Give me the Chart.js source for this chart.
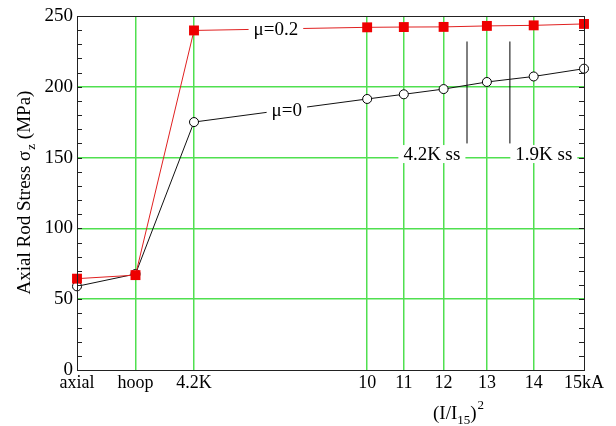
<!DOCTYPE html>
<html>
<head>
<meta charset="utf-8">
<script src="https://cdn.jsdelivr.net/npm/chart.js@4.4.1/dist/chart.umd.min.js"></script>
<style>
  html, body { margin: 0; padding: 0; background: #fff; }
  #wrap { width: 616px; height: 426px; }
</style>
</head>
<body>
<div id="wrap"><canvas id="stressChart" width="616" height="426"></canvas></div>
<script>
// x axis: load case, then (I/I15)^2 for the current steps
const xLabels = ["axial", "hoop", "4.2K", "10", "11", "12", "13", "14", "15kA"];
const xValues = [-0.3, -0.15, 0, 0.444, 0.538, 0.64, 0.751, 0.871, 1.0];

// axial rod stress (MPa)
const stressMu02 = [64.5, 67, 239.8, 242, 242.2, 242.3, 243, 243.4, 244.4];
const stressMu0 = [59.1, 67.8, 175.1, 191.4, 194.7, 198.4, 203.4, 207.3, 212.8];

// steady state markers (x position, y span)
const ssX = [0.70, 0.81];
const ssSpan = [160, 232];
const ssLabels = ["4.2K ss", "1.9K ss"];
const ssLabelX = [0.61, 0.897];
const ssLabelY = 152.5;

// series labels placed on the lines
const seriesLabels = ["\u03bc=0.2", "\u03bc=0"];
const seriesLabelX = [0.21, 0.238];
const seriesLabelY = [240.9, 183.8];

const yTicks = [0, 50, 100, 150, 200, 250];

const SERIF = "'Liberation Serif', 'DejaVu Serif', serif";
const GREEN = "#50e050";

function toPoints(xs, ys) {
  return xs.map((x, i) => ({ x: x, y: ys[i] }));
}

const ssDatasets = ssX.map((x) => ({
  label: "ss",
  data: [{ x: x, y: ssSpan[0] }, { x: x, y: ssSpan[1] }],
  borderColor: "#000",
  borderWidth: 1,
  pointRadius: 0,
  clip: false,
}));

// inward minor ticks, frame, labels and axis titles
const decorPlugin = {
  id: "decor",
  afterDatasetsDraw(chart) {
    const ctx = chart.ctx;
    const xs = chart.scales.x;
    const ys = chart.scales.y;
    ctx.save();
    ctx.font = "19px " + SERIF;
    ctx.textBaseline = "middle";
    ctx.textAlign = "center";
    const drawBoxed = (text, x, y) => {
      const w = ctx.measureText(text).width;
      ctx.fillStyle = "#fff";
      ctx.fillRect(x - w / 2 - 5, y - 9, w + 10, 18);
      ctx.fillStyle = "#000";
      ctx.fillText(text, x, y + 1);
    };
    seriesLabels.forEach((t, i) => {
      drawBoxed(t, xs.getPixelForValue(seriesLabelX[i]), ys.getPixelForValue(seriesLabelY[i]));
    });
    ssLabels.forEach((t, i) => {
      drawBoxed(t, xs.getPixelForValue(ssLabelX[i]), ys.getPixelForValue(ssLabelY));
    });
    ctx.restore();
  },
  afterDraw(chart) {
    const ctx = chart.ctx;
    const a = chart.chartArea;
    const ys = chart.scales.y;
    ctx.save();
    ctx.strokeStyle = "#222";
    ctx.lineWidth = 1;
    // minor ticks every 10
    ctx.beginPath();
    for (let v = 10; v < 250; v += 10) {
      const py = Math.round(ys.getPixelForValue(v)) + 0.5;
      ctx.moveTo(a.left, py);
      ctx.lineTo(a.left + 5, py);
      ctx.moveTo(a.right, py);
      ctx.lineTo(a.right - 5, py);
    }
    ctx.stroke();
    ctx.strokeRect(Math.round(a.left) + 0.5, Math.round(a.top) + 0.5,
      Math.round(a.right - a.left), Math.round(a.bottom - a.top));

    ctx.fillStyle = "#000";
    ctx.textBaseline = "alphabetic";
    // y title with subscript z
    ctx.translate(30, (a.top + a.bottom) / 2);
    ctx.rotate(-Math.PI / 2);
    const big = "19px " + SERIF;
    const small = "13px " + SERIF;
    const p1 = "Axial Rod Stress \u03c3";
    const p2 = "z";
    const p3 = " (MPa)";
    ctx.font = big;
    const w1 = ctx.measureText(p1).width;
    const w3 = ctx.measureText(p3).width;
    ctx.font = small;
    const w2 = ctx.measureText(p2).width;
    let x0 = -(w1 + w2 + w3) / 2;
    ctx.font = big;
    ctx.textAlign = "left";
    ctx.fillText(p1, x0, 0);
    ctx.font = small;
    ctx.fillText(p2, x0 + w1 + 1, 5);
    ctx.font = big;
    ctx.fillText(p3, x0 + w1 + w2 + 1, 0);
    ctx.restore();

    // x title (I/I15)^2
    ctx.save();
    ctx.fillStyle = "#000";
    ctx.textAlign = "left";
    ctx.textBaseline = "alphabetic";
    const q1 = "(I/I";
    const q2 = "15";
    const q3 = ")";
    const q4 = "2";
    ctx.font = big;
    const v1 = ctx.measureText(q1).width;
    const v3 = ctx.measureText(q3).width;
    ctx.font = small;
    const v2 = ctx.measureText(q2).width;
    const v4 = ctx.measureText(q4).width;
    const cx = chart.scales.x.getPixelForValue(0.677);
    let sx = cx - (v1 + v2 + v3 + v4) / 2;
    const base = 419;
    ctx.font = big;
    ctx.fillText(q1, sx, base);
    ctx.font = small;
    ctx.fillText(q2, sx + v1, base + 5);
    ctx.font = big;
    ctx.fillText(q3, sx + v1 + v2, base);
    ctx.font = small;
    ctx.fillText(q4, sx + v1 + v2 + v3 + 1, base - 10);
    ctx.restore();
  },
};

const ctx = document.getElementById("stressChart").getContext("2d");

const config = {
  type: "line",
  data: {
    datasets: [
      {
        label: "\u03bc=0.2",
        data: toPoints(xValues, stressMu02),
        borderColor: "#e02020",
        borderWidth: 1,
        pointStyle: "rect",
        pointRadius: 7,
        pointBackgroundColor: "#ee0000",
        pointBorderColor: "#ee0000",
        pointBorderWidth: 0,
        clip: false,
      },
      {
        label: "\u03bc=0",
        data: toPoints(xValues, stressMu0),
        borderColor: "#111",
        borderWidth: 1,
        pointStyle: "circle",
        pointRadius: 4.5,
        pointBackgroundColor: "#fff",
        pointBorderColor: "#000",
        pointBorderWidth: 1,
        clip: false,
      },
      ...ssDatasets,
    ],
  },
  options: {
    responsive: false,
    animation: false,
    layout: { padding: { left: 0, right: 32, top: 16, bottom: 0 } },
    plugins: {
      legend: { display: false },
      tooltip: { enabled: false },
    },
    scales: {
      x: {
        type: "linear",
        min: xValues[0],
        max: xValues[xValues.length - 1],
        afterBuildTicks: (scale) => {
          scale.ticks = xValues.map((v) => ({ value: v }));
        },
        afterFit: (scale) => {
          scale.height = 56;
        },
        ticks: {
          autoSkip: false,
          maxRotation: 0,
          padding: 2,
          color: "#000",
          font: { family: SERIF, size: 18 },
          callback: (value, index) => xLabels[index],
        },
        grid: {
          drawTicks: false,
          lineWidth: 1.5,
          color: (c) => (c.index === 0 || c.index === xValues.length - 1 ? "rgba(0,0,0,0)" : GREEN),
        },
        border: { display: false },
      },
      y: {
        min: 0,
        max: 250,
        afterBuildTicks: (scale) => {
          scale.ticks = yTicks.map((v) => ({ value: v }));
        },
        afterFit: (scale) => {
          scale.width = 77;
        },
        ticks: {
          padding: 4,
          color: "#000",
          font: { family: SERIF, size: 19 },
        },
        grid: {
          drawTicks: false,
          lineWidth: 1.5,
          color: (c) => (c.tick && (c.tick.value === 0 || c.tick.value === 250) ? "rgba(0,0,0,0)" : GREEN),
        },
        border: { display: false },
      },
    },
  },
  plugins: [decorPlugin],
};

window.stressChartInstance = new Chart(ctx, config);
</script>
</body>
</html>
